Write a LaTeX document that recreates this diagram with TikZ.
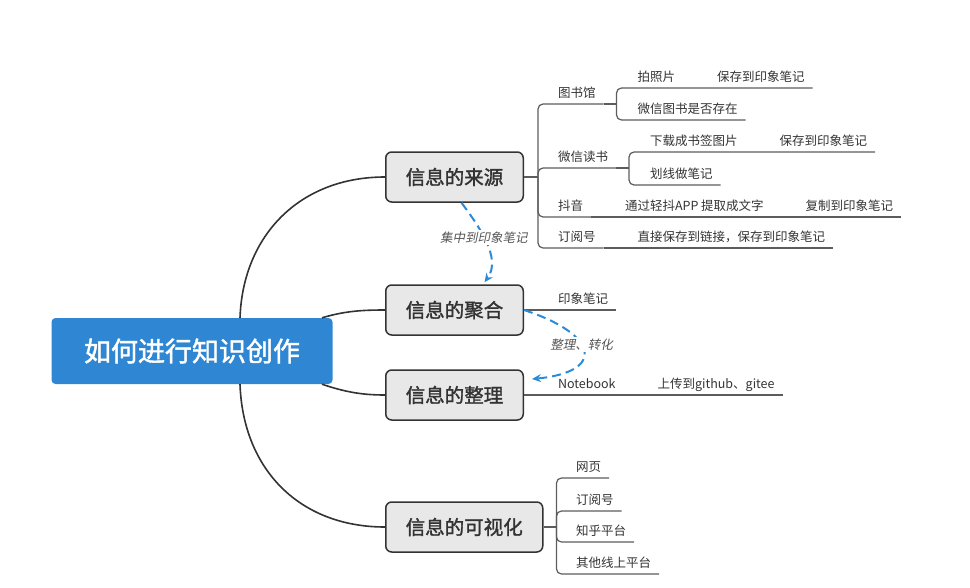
\documentclass[tikz,border=0pt]{standalone}
\usepackage{fontspec}
\setmainfont{Noto Sans CJK SC}
\newfontfamily\relfont[FakeSlant=0.2]{Noto Sans CJK SC}
\newfontfamily\medfont[FakeBold=1.6]{Noto Sans CJK SC}
\usetikzlibrary{arrows.meta,calc,positioning}
\definecolor{rootblue}{HTML}{2F87D3}
\definecolor{topicgray}{HTML}{E8E8E8}
\definecolor{inkdark}{HTML}{333333}
\definecolor{linegray}{HTML}{5C5C5C}
\definecolor{relblue}{HTML}{2C8BD8}
\definecolor{relgray}{HTML}{555555}
\tikzset{
  root/.style={
    shape = rectangle,
    fill = rootblue,
    rounded corners = 4pt,
    minimum width = 281pt,
    minimum height = 66pt,
    text = white,
    font = \medfont\fontsize{27}{30}\selectfont
  },
  topic/.style={
    shape = rectangle,
    draw = inkdark,
    fill = topicgray,
    line width = 1.5pt,
    rounded corners = 6pt,
    minimum height = 50pt,
    inner xsep = 20pt,
    anchor = west,
    text = inkdark,
    font = \medfont\fontsize{19.5}{22}\selectfont
  },
  leaf/.style={
    anchor = south west,
    inner xsep = 8pt,
    inner ysep = 7pt,
    outer sep = 0pt,
    text depth = 0pt,
    text = inkdark,
    font = \fontsize{12.5}{14}\selectfont
  },
}
\tikzset{
  rootline/.style={
    draw = inkdark,
    line width = 1.6pt
  },
  branch/.style={
    draw = linegray,
    line width = 1.2pt,
    rounded corners = 5pt
  },
  rel/.style={
    draw = relblue,
    line width = 2pt,
    dash pattern = on 9pt off 5pt,
    -{Stealth[length=9pt,width=8pt,inset=3pt]}
  },
  rellabel/.style={
    fill = white,
    inner sep = 1.5pt,
    text = relgray,
    font = \relfont\fontsize{12.5}{14}\selectfont
  }
}
\begin{document}
\begin{tikzpicture}[x=1pt, y=-1pt]
\useasboundingbox (0,0) rectangle (970,587);
% main topics
\node[root] (root) at (192,351) {如何进行知识创作};
\node[topic] (lai) at (385,177) {信息的来源};
\node[topic] (ju) at (385,310) {信息的聚合};
\node[topic] (zl) at (385,395) {信息的整理};
\node[topic] (vis) at (385,527) {信息的可视化};
% curves from root
\draw[rootline] ([xshift=48pt]root.north) .. controls (243,235) and (300,177) .. (lai.west);
\draw[rootline] ([xshift=130pt]root.north) .. controls (345,311) and (362,310) .. (ju.west);
\draw[rootline] ([xshift=130pt]root.south) .. controls (345,392) and (362,395) .. (zl.west);
\draw[rootline] ([xshift=48pt]root.south) .. controls (243,470) and (300,527) .. (vis.west);

% sources
\coordinate (s1) at ([xshift=14pt]lai.east);
\draw[branch] (lai.east) -- (s1);
\node[leaf] (tsg) at (550,104) {图书馆};
\node[leaf] (wxds) at (550,168) {微信读书};
\node[leaf] (dy) at (550,217) {抖音};
\node[leaf] (dyh) at (550,248) {订阅号};
\foreach \n in {tsg,wxds,dy,dyh}
  \draw[branch] (s1) |- (\n.south east);
% library
\coordinate (s2) at ([xshift=13pt]tsg.south east);
\draw[branch] (tsg.south east) -- (s2);
\node[leaf] (pzp) at ([xshift=13pt,yshift=16pt]s2) {拍照片};
\node[leaf] (wxts) at ([xshift=13pt,yshift=-16pt]s2) {微信图书是否存在};
\node[leaf] (bc1) at ([xshift=26pt]pzp.south east) {保存到印象笔记};
\draw[branch] (s2) |- (pzp.south east) -- (bc1.south east);
\draw[branch] (s2) |- (wxts.south east);
% weixin dushu
\coordinate (s3) at ([xshift=13pt]wxds.south east);
\draw[branch] (wxds.south east) -- (s3);
\node[leaf] (xz) at ([xshift=13pt,yshift=16pt]s3) {下载成书签图片};
\node[leaf] (hx) at ([xshift=13pt,yshift=-17pt]s3) {划线做笔记};
\node[leaf] (bc2) at ([xshift=26pt]xz.south east) {保存到印象笔记};
\draw[branch] (s3) |- (xz.south east) -- (bc2.south east);
\draw[branch] (s3) |- (hx.south east);
% douyin, dingyue
\node[leaf] (tq) at ([xshift=26pt]dy.south east) {通过轻抖APP 提取成文字};
\node[leaf] (fz) at ([xshift=26pt]tq.south east) {复制到印象笔记};
\draw[branch] (dy.south east) -- (tq.south east) -- (fz.south east);
\node[leaf] (zj) at ([xshift=26pt]dyh.south east) {直接保存到链接，保存到印象笔记};
\draw[branch] (dyh.south east) -- (zj.south east);

% aggregation, sorting
\node[leaf] (yx) at ([xshift=26pt]ju.east) {印象笔记};
\draw[branch] (ju.east) -- (yx.south east);
\node[leaf] (nb) at ([xshift=26pt]zl.east) {Notebook};
\node[leaf] (sc) at ([xshift=26pt]nb.south east) {上传到github、gitee};
\draw[branch] (zl.east) -- (nb.south east) -- (sc.south east);

% visualisation
\coordinate (s5) at ([xshift=13pt]vis.east);
\draw[branch] (vis.east) -- (s5);
\foreach \n/\y/\t in {wy/478/网页, dyh2/511/订阅号, zh/542/知乎平台, qt/574/其他线上平台}{
  \node[leaf] (\n) at (568,\y) {\t};
  \draw[branch] (s5) |- (\n.south east);
}

% relations
\draw[rel] ([xshift=7pt]lai.south) .. controls (478,225) and (502,258) .. ([xshift=30pt,yshift=2pt]ju.north)
  node[rellabel, pos=0.45] (rl1) {集中到印象笔记};
\draw[rel] (ju.east) .. controls (600,335) and (605,372) .. ([xshift=8pt,yshift=16pt]zl.east)
  node[rellabel, pos=0.42] (rl2) {整理、转化};
\end{tikzpicture}
\end{document}
